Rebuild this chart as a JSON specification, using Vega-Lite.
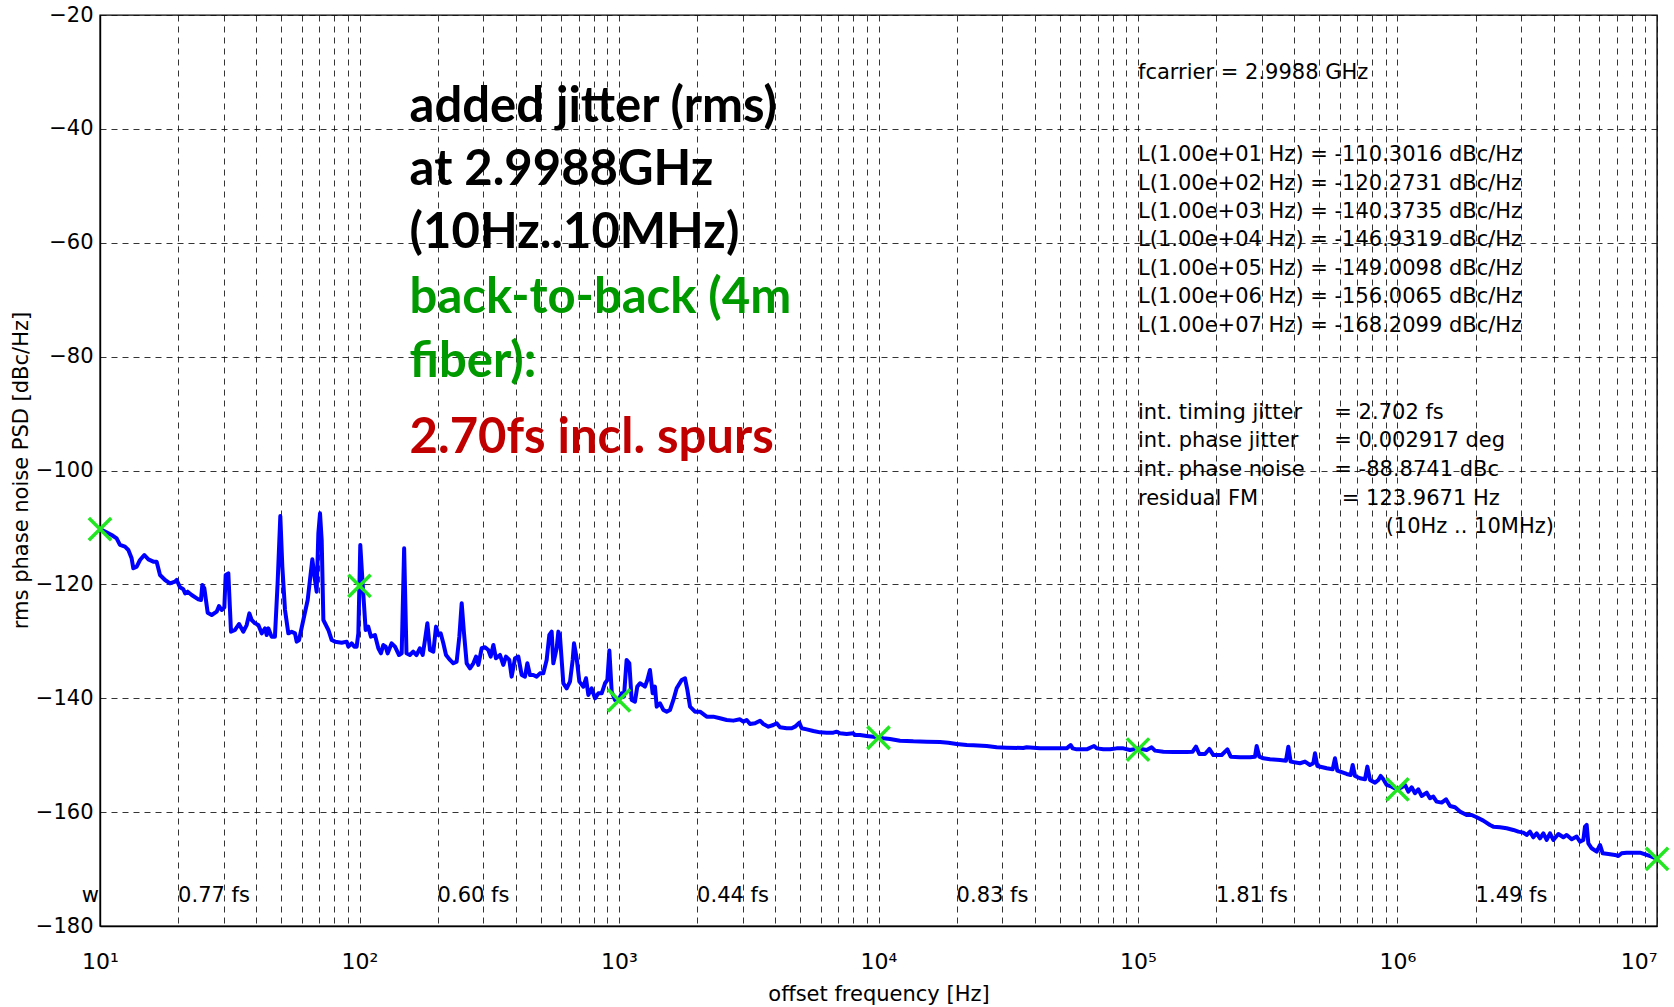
{
  "$schema": "https://vega.github.io/schema/vega-lite/v6.json",
  "width": 1557,
  "height": 911,
  "autosize": {"type": "none"},
  "padding": {"left": 100, "top": 15, "right": 17, "bottom": 81},
  "background": "white",
  "config": {
    "font": "DejaVu Sans",
    "view": {"stroke": "#000", "strokeWidth": 1.4}
  },
  "datasets": {
    "trace": [
      {"f":10.0,"db":-110.3},{"f":10.45,"db":-110.74},{"f":11.09,"db":-111.33},{"f":11.59,"db":-111.91},{"f":11.94,"db":-113.08},{"f":12.48,"db":-113.38},{"f":12.86,"db":-113.96},{"f":13.24,"db":-115.43},{"f":13.44,"db":-117.18},{"f":13.85,"db":-116.89},{"f":14.26,"db":-115.72},{"f":14.82,"db":-114.84},{"f":15.36,"db":-115.6},{"f":16.05,"db":-116.01},{"f":16.53,"db":-116.01},{"f":17.03,"db":-118.35},{"f":17.81,"db":-119.23},{"f":18.61,"db":-119.82},{"f":19.45,"db":-119.52},{"f":19.75,"db":-119.23},{"f":20.34,"db":-120.52},{"f":20.95,"db":-120.87},{"f":21.27,"db":-121.57},{"f":21.77,"db":-121.28},{"f":22.56,"db":-121.87},{"f":23.93,"db":-122.63},{"f":24.5,"db":-122.74},{"f":24.79,"db":-120.11},{"f":25.24,"db":-120.7},{"f":26.0,"db":-124.97},{"f":26.94,"db":-125.38},{"f":28.16,"db":-124.79},{"f":28.75,"db":-123.8},{"f":29.43,"db":-124.5},{"f":30.14,"db":-124.03},{"f":30.5,"db":-118.35},{"f":31.23,"db":-118.06},{"f":31.97,"db":-128.31},{"f":33.13,"db":-128.01},{"f":34.33,"db":-126.96},{"f":35.68,"db":-128.31},{"f":36.75,"db":-127.14},{"f":37.63,"db":-125.09},{"f":38.41,"db":-126.26},{"f":39.57,"db":-126.84},{"f":40.76,"db":-127.14},{"f":41.98,"db":-128.6},{"f":43.24,"db":-127.72},{"f":43.89,"db":-128.89},{"f":44.54,"db":-127.72},{"f":45.84,"db":-129.18},{"f":47.22,"db":-129.18},{"f":48.35,"db":-119.82},{"f":49.53,"db":-107.99},{"f":50.42,"db":-116.89},{"f":51.63,"db":-124.5},{"f":53.19,"db":-128.6},{"f":54.78,"db":-128.31},{"f":56.42,"db":-128.6},{"f":57.27,"db":-130.06},{"f":58.47,"db":-129.77},{"f":60.75,"db":-126.26},{"f":63.14,"db":-122.74},{"f":65.8,"db":-115.6},{"f":67.38,"db":-119.23},{"f":68.38,"db":-121.28},{"f":69.41,"db":-111.03},{"f":70.45,"db":-107.52},{"f":71.5,"db":-112.21},{"f":72.57,"db":-126.26},{"f":75.87,"db":-128.01},{"f":78.14,"db":-129.77},{"f":80.5,"db":-130.06},{"f":85.4,"db":-130.24},{"f":89.27,"db":-130.06},{"f":90.57,"db":-130.94},{"f":93.28,"db":-130.36},{"f":95.52,"db":-130.94},{"f":97.52,"db":-130.94},{"f":98.97,"db":-128.6},{"f":100.7,"db":-113.08},{"f":102.8,"db":-119.82},{"f":105.6,"db":-128.01},{"f":108.1,"db":-127.43},{"f":110.7,"db":-129.18},{"f":114.7,"db":-128.89},{"f":118.2,"db":-131.23},{"f":121.0,"db":-132.11},{"f":123.5,"db":-130.65},{"f":126.1,"db":-130.94},{"f":128.4,"db":-132.11},{"f":133.0,"db":-130.36},{"f":137.0,"db":-130.94},{"f":142.0,"db":-132.41},{"f":145.4,"db":-132.11},{"f":148.6,"db":-113.67},{"f":151.7,"db":-132.11},{"f":156.3,"db":-132.41},{"f":161.0,"db":-131.82},{"f":165.8,"db":-132.41},{"f":170.8,"db":-131.23},
      {"f":175.2,"db":-132.4},{"f":178.8,"db":-129.76},{"f":182.6,"db":-126.83},{"f":186.9,"db":-131.52},{"f":192.6,"db":-131.81},{"f":197.2,"db":-127.42},{"f":201.3,"db":-128.88},{"f":205.5,"db":-128.59},{"f":210.4,"db":-130.35},{"f":215.5,"db":-132.4},{"f":223.2,"db":-133.27},{"f":229.9,"db":-133.86},{"f":236.8,"db":-133.57},{"f":242.5,"db":-129.18},{"f":247.6,"db":-123.32},{"f":252.8,"db":-128.59},{"f":258.8,"db":-133.86},{"f":266.6,"db":-134.74},{"f":274.6,"db":-133.86},{"f":281.2,"db":-132.69},{"f":287.1,"db":-134.15},{"f":295.7,"db":-131.22},{"f":304.6,"db":-131.05},{"f":313.7,"db":-131.52},{"f":320.3,"db":-132.69},{"f":328.0,"db":-130.64},{"f":335.7,"db":-132.98},{"f":347.8,"db":-132.4},{"f":358.2,"db":-134.15},{"f":366.8,"db":-132.69},{"f":377.8,"db":-133.27},{"f":385.7,"db":-136.2},{"f":397.4,"db":-132.98},{"f":409.3,"db":-132.69},{"f":421.6,"db":-135.91},{"f":434.2,"db":-136.2},{"f":443.3,"db":-133.86},{"f":453.9,"db":-135.91},{"f":467.5,"db":-135.91},{"f":481.6,"db":-136.2},{"f":496.0,"db":-135.62},{"f":510.9,"db":-135.62},{"f":526.2,"db":-133.27},{"f":538.9,"db":-128.88},{"f":550.2,"db":-128.3},{"f":558.4,"db":-133.86},{"f":575.2,"db":-131.22},{"f":583.8,"db":-128.3},{"f":592.4,"db":-129.18},{"f":610.3,"db":-137.37},{"f":628.6,"db":-138.25},{"f":647.4,"db":-137.08},{"f":663.0,"db":-133.27},{"f":670.8,"db":-130.35},{"f":686.9,"db":-132.98},{"f":703.4,"db":-137.08},{"f":728.8,"db":-137.96},{"f":746.3,"db":-136.49},{"f":761.9,"db":-139.42},{"f":784.7,"db":-138.25},{"f":808.3,"db":-140.01},{"f":832.6,"db":-139.13},{"f":857.6,"db":-139.13},{"f":883.3,"db":-137.37},{"f":901.8,"db":-136.79},{"f":918.0,"db":-131.63},{"f":937.2,"db":-138.84},{"f":965.3,"db":-140.3},{"f":1003,"db":-140.01},{"f":1024,"db":-139.13},{"f":1045,"db":-139.71},{"f":1070,"db":-133.27},{"f":1096,"db":-133.86},{"f":1119,"db":-140.3},{"f":1152,"db":-140.59},{"f":1176,"db":-137.96},{"f":1205,"db":-137.37},{"f":1234,"db":-137.67},{"f":1259,"db":-137.96},{"f":1286,"db":-136.79},{"f":1316,"db":-135.03},{"f":1348,"db":-139.13},{"f":1376,"db":-137.96},{"f":1397,"db":-141.47},{"f":1439,"db":-140.89},{"f":1482,"db":-142.06},{"f":1527,"db":-142.35},{"f":1573,"db":-142.06},{"f":1620,"db":-140.3},{"f":1668,"db":-138.25},{"f":1744,"db":-136.79},{"f":1796,"db":-136.49},{"f":1834,"db":-138.54},{"f":1878,"db":-141.47},{"f":1963,"db":-142.35},{"f":2052,"db":-142.35},{"f":2177,"db":-143.23},{"f":2309,"db":-143.23},{"f":2450,"db":-143.52},{"f":2600,"db":-143.81},{"f":2757,"db":-143.93},{"f":2926,"db":-143.7},
      {"f":3014,"db":-144.11},{"f":3105,"db":-143.82},{"f":3198,"db":-144.52},{"f":3343,"db":-144.4},{"f":3495,"db":-143.94},{"f":3600,"db":-144.52},{"f":3764,"db":-144.99},{"f":3933,"db":-144.7},{"f":4051,"db":-144.4},{"f":4172,"db":-145.11},{"f":4428,"db":-145.28},{"f":4629,"db":-145.28},{"f":4768,"db":-144.99},{"f":4955,"db":-144.29},{"f":5058,"db":-145.28},{"f":5288,"db":-145.46},{"f":5610,"db":-145.75},{"f":5952,"db":-145.99},{"f":6314,"db":-146.04},{"f":6699,"db":-146.04},{"f":6900,"db":-145.87},{"f":7106,"db":-146.16},{"f":7540,"db":-146.28},{"f":7998,"db":-146.16},{"f":8119,"db":-146.45},{"f":8486,"db":-146.45},{"f":9004,"db":-146.63},{"f":9552,"db":-146.75},{"f":9927,"db":-146.86},{"f":10440,"db":-147.04},{"f":11070,"db":-147.16},{"f":12100,"db":-147.45},{"f":13620,"db":-147.57},{"f":15330,"db":-147.62},{"f":17260,"db":-147.68},{"f":18580,"db":-147.8},{"f":20010,"db":-148.03},{"f":21870,"db":-148.21},{"f":23200,"db":-148.27},{"f":26110,"db":-148.39},{"f":28540,"db":-148.62},{"f":31190,"db":-148.68},{"f":36140,"db":-148.74},{"f":37240,"db":-148.62},{"f":39500,"db":-148.68},{"f":41910,"db":-148.8},{"f":48590,"db":-148.8},{"f":53110,"db":-148.8},{"f":55020,"db":-148.21},{"f":56010,"db":-148.8},{"f":58040,"db":-148.97},{"f":63430,"db":-148.97},{"f":67690,"db":-148.39},{"f":69300,"db":-148.8},{"f":73520,"db":-148.97},{"f":78010,"db":-148.97},{"f":82750,"db":-148.8},{"f":87800,"db":-148.8},{"f":93150,"db":-149.09},{"f":100300,"db":-148.8},{"f":108000,"db":-149.09},{"f":112900,"db":-148.62},{"f":116300,"db":-149.2},{"f":125200,"db":-149.38},{"f":136900,"db":-149.44},{"f":154000,"db":-149.44},{"f":162400,"db":-149.38},{"f":167300,"db":-148.5},{"f":172300,"db":-149.79},{"f":181200,"db":-149.79},{"f":188300,"db":-148.91},{"f":195200,"db":-149.97},{"f":210100,"db":-149.97},{"f":221000,"db":-148.97},{"f":227600,"db":-150.26},{"f":247300,"db":-150.38},{"f":270200,"db":-150.38},{"f":282400,"db":-150.26},{"f":286600,"db":-148.39},{"f":293500,"db":-150.26},{"f":304100,"db":-150.55},
      {"f":322600,"db":-150.72},{"f":352500,"db":-150.84},{"f":371800,"db":-150.96},{"f":379600,"db":-148.5},{"f":387500,"db":-151.13},{"f":421000,"db":-151.42},{"f":440000,"db":-151.13},{"f":460000,"db":-151.72},{"f":473700,"db":-151.42},{"f":480900,"db":-149.67},{"f":491000,"db":-151.89},{"f":533300,"db":-152.3},{"f":562500,"db":-152.48},{"f":574200,"db":-150.55},{"f":586300,"db":-152.71},{"f":637100,"db":-153.3},{"f":660100,"db":-153.47},{"f":671900,"db":-151.72},{"f":686000,"db":-153.65},{"f":717100,"db":-154.06},{"f":749500,"db":-154.23},{"f":765200,"db":-152.01},{"f":783600,"db":-154.35},{"f":819200,"db":-154.82},{"f":843700,"db":-154.35},{"f":861400,"db":-153.65},{"f":882100,"db":-154.23},{"f":908500,"db":-155.23},{"f":949600,"db":-155.52},{"f":992700,"db":-155.99},{"f":1038000,"db":-155.64},{"f":1069000,"db":-155.23},{"f":1101000,"db":-156.4},{"f":1134000,"db":-155.64},{"f":1168000,"db":-156.69},{"f":1203000,"db":-155.99},{"f":1239000,"db":-157.16},{"f":1296000,"db":-156.58},{"f":1334000,"db":-157.57},{"f":1374000,"db":-157.28},{"f":1415000,"db":-158.16},{"f":1480000,"db":-158.33},{"f":1538000,"db":-157.75},{"f":1594000,"db":-158.92},{"f":1666000,"db":-159.15},{"f":1741000,"db":-159.91},{"f":1847000,"db":-160.5},{"f":1931000,"db":-160.5},{"f":2019000,"db":-160.91},{"f":2141000,"db":-161.49},{"f":2272000,"db":-162.26},{"f":2340000,"db":-162.55},{"f":2483000,"db":-162.66},{"f":2634000,"db":-162.84},{"f":2795000,"db":-163.13},{"f":2922000,"db":-163.43},{"f":3054000,"db":-163.6},{"f":3145000,"db":-164.01},{"f":3240000,"db":-163.43},{"f":3337000,"db":-164.42},{"f":3438000,"db":-163.72},{"f":3541000,"db":-164.6},{"f":3648000,"db":-163.72},{"f":3757000,"db":-164.89},{"f":3870000,"db":-163.72},{"f":3986000,"db":-164.89},{"f":4167000,"db":-163.84},{"f":4357000,"db":-164.42},{"f":4487000,"db":-164.01},{"f":4691000,"db":-164.77},{"f":4903000,"db":-164.3},{"f":5050000,"db":-165.18},{"f":5201000,"db":-164.89},{"f":5278000,"db":-162.55},{"f":5358000,"db":-162.26},{"f":5438000,"db":-165.48},{"f":5601000,"db":-166.35},{"f":5856000,"db":-166.94},{"f":6031000,"db":-165.77},{"f":6176000,"db":-167.23},{"f":6495000,"db":-167.35},{"f":6890000,"db":-167.52},{"f":7096000,"db":-167.7},{"f":7308000,"db":-167.23},{"f":7640000,"db":-167.12},{"f":8104000,"db":-167.12},{"f":8600000,"db":-167.12},{"f":9126000,"db":-167.52},{"f":9537000,"db":-167.82},{"f":10000000,"db":-168.21}
    ],
    "markers": [
      {"f":10,"db":-110.3016},{"f":100,"db":-120.2731},{"f":1000,"db":-140.3735},{"f":10000,"db":-146.9319},{"f":100000,"db":-149.0098},{"f":1000000,"db":-156.0065},{"f":10000000,"db":-168.2099}
    ],
    "headline": [
      {"f":156,"db":-38.8,"t":"added jitter (rms)","g":"a"},
      {"f":156,"db":-49.9,"t":"at 2.9988GHz","g":"a"},
      {"f":156,"db":-60.9,"t":"(10Hz..10MHz)","g":"a"},
      {"f":156,"db":-72.3,"t":"back-to-back (4m","g":"b"},
      {"f":156,"db":-83.6,"t":"fiber):","g":"b"},
      {"f":156,"db":-96.9,"t":"2.70fs incl. spurs","g":"c"}
    ],
    "notes": [
      {"f":100000,"db":-30.1,"t":"fcarrier = 2.9988 GHz"},
      {"f":100000,"db":-44.6,"t":"L(1.00e+01 Hz) = -110.3016 dBc/Hz"},
      {"f":100000,"db":-49.6,"t":"L(1.00e+02 Hz) = -120.2731 dBc/Hz"},
      {"f":100000,"db":-54.6,"t":"L(1.00e+03 Hz) = -140.3735 dBc/Hz"},
      {"f":100000,"db":-59.6,"t":"L(1.00e+04 Hz) = -146.9319 dBc/Hz"},
      {"f":100000,"db":-64.6,"t":"L(1.00e+05 Hz) = -149.0098 dBc/Hz"},
      {"f":100000,"db":-69.6,"t":"L(1.00e+06 Hz) = -156.0065 dBc/Hz"},
      {"f":100000,"db":-74.6,"t":"L(1.00e+07 Hz) = -168.2099 dBc/Hz"},
      {"f":100000,"db":-89.85,"t":"int. timing jitter"},
      {"f":100000,"db":-94.9,"t":"int. phase jitter"},
      {"f":100000,"db":-99.9,"t":"int. phase noise"},
      {"f":100000,"db":-105.0,"t":"residual FM"},
      {"f":571000,"db":-89.85,"t":"= 2.702 fs"},
      {"f":571000,"db":-94.9,"t":"= 0.002917 deg"},
      {"f":571000,"db":-99.9,"t":"= -88.8741 dBc"},
      {"f":610000,"db":-105.0,"t":"= 123.9671 Hz"},
      {"f":900000,"db":-109.9,"t":"(10Hz .. 10MHz)"},
      {"f":20,"db":-174.7,"t":"0.77 fs"},
      {"f":200,"db":-174.7,"t":"0.60 fs"},
      {"f":2000,"db":-174.7,"t":"0.44 fs"},
      {"f":20000,"db":-174.7,"t":"0.83 fs"},
      {"f":200000,"db":-174.7,"t":"1.81 fs"},
      {"f":2000000,"db":-174.7,"t":"1.49 fs"}
    ],
    "edge": [
      {"f":10,"db":-174.7,"t":"w"}
    ]
  },
  "encoding": {
    "x": {
      "field": "f", "type": "quantitative",
      "scale": {"type": "log", "domain": [10, 10000000], "nice": false},
      "axis": {
        "values": [10,20,30,40,50,60,70,80,90,100,200,300,400,500,600,700,800,900,1000,2000,3000,4000,5000,6000,7000,8000,9000,10000,20000,30000,40000,50000,60000,70000,80000,90000,100000,200000,300000,400000,500000,600000,700000,800000,900000,1000000,2000000,3000000,4000000,5000000,6000000,7000000,8000000,9000000,10000000],
        "labelExpr": "datum.value == 10 ? '10¹' : datum.value == 100 ? '10²' : datum.value == 1000 ? '10³' : datum.value == 10000 ? '10⁴' : datum.value == 100000 ? '10⁵' : datum.value == 1000000 ? '10⁶' : datum.value == 10000000 ? '10⁷' : ''",
        "grid": true, "gridColor": "#111", "gridDash": [6, 5], "gridWidth": 1, "gridOpacity": 0.85,
        "ticks": false, "tickSize": 0,
        "domain": true, "domainColor": "#000", "domainWidth": 1.4,
        "labelFont": "DejaVu Sans", "labelFontSize": 22, "labelColor": "#000",
        "labelAlign": {"condition": {"test": "datum.value >= 10000000", "value": "right"}, "value": "center"},
        "labelBaseline": "alphabetic", "labelPadding": 42, "labelFlush": false, "labelOverlap": false,
        "title": "offset frequency [Hz]", "titleFont": "DejaVu Sans", "titleFontSize": 21, "titleFontWeight": "normal", "titleColor": "#000",
        "titleY": 74, "titleBaseline": "alphabetic"
      }
    },
    "y": {
      "field": "db", "type": "quantitative",
      "scale": {"domain": [-180, -20], "nice": false, "zero": false},
      "axis": {
        "values": [-180,-160,-140,-120,-100,-80,-60,-40,-20],
        "grid": true, "gridColor": "#111", "gridDash": [6, 5], "gridWidth": 1, "gridOpacity": 0.85,
        "ticks": false, "tickSize": 0,
        "domain": true, "domainColor": "#000", "domainWidth": 1.4,
        "labelFont": "DejaVu Sans", "labelFontSize": 21, "labelColor": "#000", "labelPadding": 7, "labelFlush": false, "labelOverlap": false,
        "title": "rms phase noise PSD [dBc/Hz]", "titleFont": "DejaVu Sans", "titleFontSize": 21, "titleFontWeight": "normal", "titleColor": "#000",
        "titleX": -79, "titleY": 455, "titleAngle": -90, "titleAlign": "center", "titleBaseline": "middle"
      }
    }
  },
  "layer": [
    {
      "data": {"name": "trace"},
      "mark": {"type": "line", "color": "#0000ff", "strokeWidth": 4, "strokeJoin": "round", "strokeCap": "round"}
    },
    {
      "data": {"name": "markers"},
      "mark": {"type": "point", "shape": "M-1,-1L1,1M1,-1L-1,1", "filled": false, "color": "#22e622", "strokeWidth": 3.5, "size": 500, "opacity": 1}
    },
    {
      "data": {"name": "headline"},
      "mark": {"type": "text", "font": "Lato", "fontWeight": "bold", "fontSize": 49, "align": "left", "baseline": "alphabetic"},
      "encoding": {
        "text": {"field": "t"},
        "color": {"field": "g", "type": "nominal", "scale": {"domain": ["a", "b", "c"], "range": ["#000000", "#009900", "#c00000"]}, "legend": null}
      }
    },
    {
      "data": {"name": "notes"},
      "mark": {"type": "text", "font": "DejaVu Sans", "fontSize": 21, "align": "left", "baseline": "middle", "color": "#000"},
      "encoding": {"text": {"field": "t"}}
    },
    {
      "data": {"name": "edge"},
      "mark": {"type": "text", "font": "DejaVu Sans", "fontSize": 21, "align": "right", "baseline": "middle", "color": "#000", "dx": -1},
      "encoding": {"text": {"field": "t"}}
    }
  ]
}
